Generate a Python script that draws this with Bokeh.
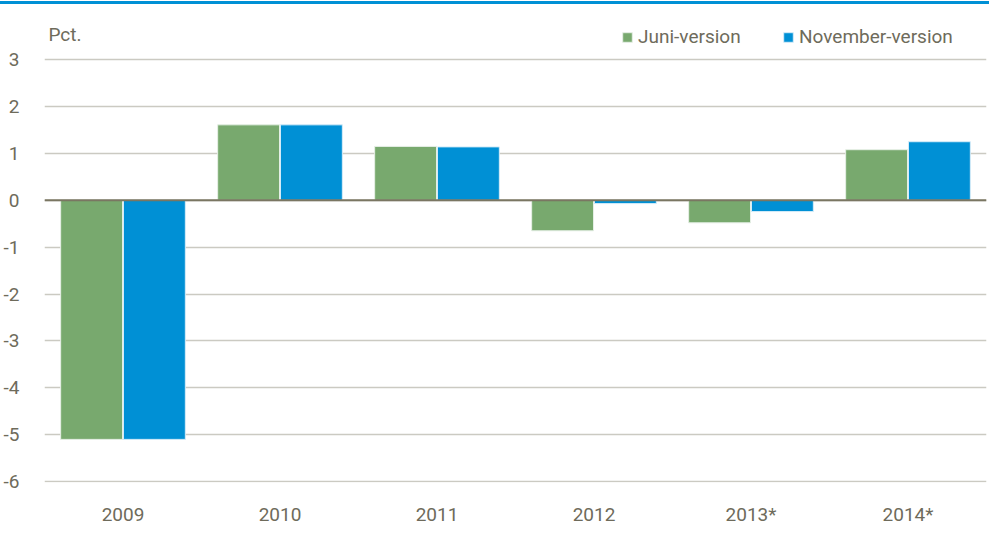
from bokeh.plotting import figure
from bokeh.models import FactorRange, Range1d, FixedTicker, Span, Label, Legend, LegendItem, ColumnDataSource, Div
from bokeh.transform import dodge
from bokeh.layouts import column
from bokeh.embed import file_html
from bokeh.resources import INLINE

years = ["2009", "2010", "2011", "2012", "2013*", "2014*"]
juni = [-5.1, 1.61, 1.15, -0.65, -0.48, 1.08]
november = [-5.1, 1.61, 1.14, -0.07, -0.24, 1.25]
y_ticks = [-6, -5, -4, -3, -2, -1, 0, 1, 2, 3]
y_tick_labels = {t: str(t) for t in y_ticks}

FONT = "Roboto"
TXT = "#6E6B5B"
GREEN = "#78A96E"
BLUE = "#0090D5"

W, H = 989, 524
ML, MR, MT, MB = 43, 3, 13, 35

src = ColumnDataSource(dict(year=years, juni=juni, november=november))

p = figure(width=W, height=H, x_range=FactorRange(*years),
           y_range=Range1d(-6.02, 3.90), output_backend="svg", toolbar_location=None,
           min_border_left=ML, min_border_right=MR, min_border_top=MT, min_border_bottom=MB)
p.outline_line_color = None

r1 = p.vbar(x=dodge("year", -0.2, range=p.x_range), top="juni", bottom=0, width=0.394,
            source=src, fill_color=GREEN, line_color="#E6EFE6", line_width=1)
r2 = p.vbar(x=dodge("year", 0.2, range=p.x_range), top="november", bottom=0, width=0.394,
            source=src, fill_color=BLUE, line_color="#D6ECF8", line_width=1)

p.add_layout(Span(location=0, dimension="width", line_color="#7A7662", line_width=2))

p.xgrid.grid_line_color = None
p.ygrid.grid_line_color = "#CBCAC2"
p.ygrid.grid_line_width = 1.5

p.yaxis.ticker = FixedTicker(ticks=y_ticks)
p.yaxis.major_label_overrides = y_tick_labels
for ax in (p.xaxis, p.yaxis):
    ax.axis_line_color = None
    ax.major_tick_line_color = None
    ax.minor_tick_line_color = None
    ax.major_label_text_font = FONT
    ax.major_label_text_font_size = "19px"
    ax.major_label_text_color = TXT
p.yaxis.major_label_standoff = 19
p.xaxis.major_label_standoff = 14

p.add_layout(Label(x=0.025, y=3.53, text="Pct.", text_font=FONT, text_font_size="19px",
                   text_color=TXT, text_baseline="middle"))

common = dict(orientation="horizontal", border_line_color=None, background_fill_alpha=0,
              glyph_width=12, glyph_height=12, label_standoff=5, padding=0, margin=0,
              label_text_font=FONT, label_text_font_size="19px", label_text_color=TXT)
p.add_layout(Legend(items=[LegendItem(label="Juni-version", renderers=[r1])],
                    location=(577, 434), **common))
p.add_layout(Legend(items=[LegendItem(label="November-version", renderers=[r2])],
                    location=(738, 434), **common))

rule = Div(width=W, height=3, margin=(1, 0, 0, 0), styles={"background-color": BLUE})

layout = column(rule, p, spacing=0)
open("out.html", "w").write(file_html(layout, INLINE))
